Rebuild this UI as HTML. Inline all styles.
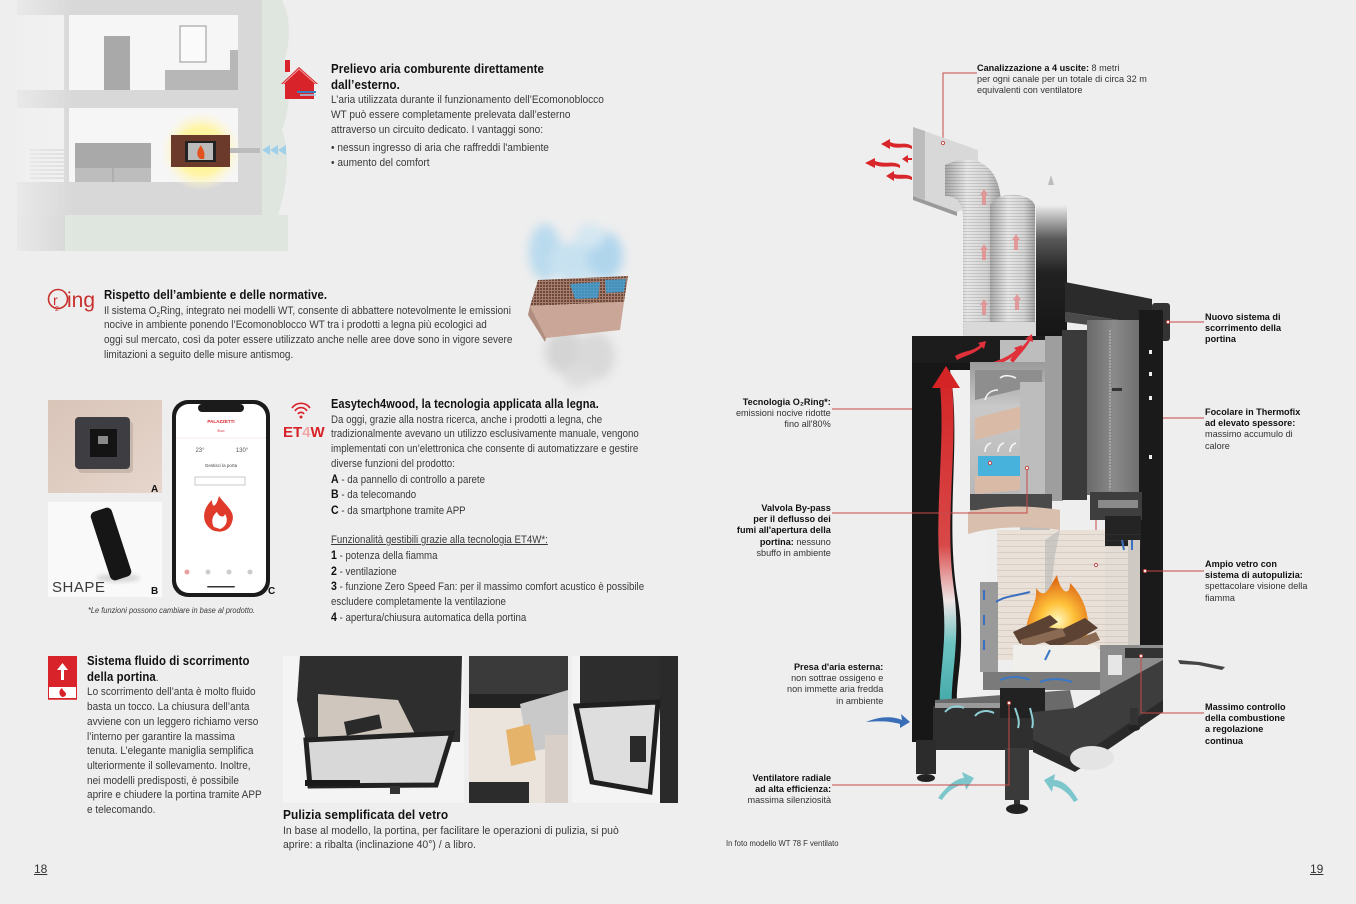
<!DOCTYPE html>
<html><head><meta charset="utf-8">
<style>
html,body{margin:0;padding:0}
body{width:1356px;height:904px;background:#eeeeee;position:relative;overflow:hidden;font-family:"Liberation Sans",Arial,sans-serif}
svg{position:absolute;left:0;top:0}
.b{position:absolute;font-size:11px;line-height:14.7px;color:#3a3a3a;transform:scaleX(.9);transform-origin:0 0;white-space:nowrap}
.b b{font-weight:bold;color:#111;font-size:12.5px;letter-spacing:0.1px}
.k{font-weight:bold;color:#111;font-size:12px}
.l{position:absolute;font-size:9.5px;line-height:11.2px;color:#333;transform:scaleX(.96);transform-origin:0 0;white-space:nowrap}
.l b{color:#111}
.r{transform-origin:100% 0;text-align:right}
.pg{position:absolute;font-size:12px;color:#333;text-decoration:underline}
</style></head><body>
<svg width="1356" height="904" viewBox="0 0 1356 904">
<defs>
<radialGradient id="glow" cx="0.5" cy="0.5" r="0.5"><stop offset="0" stop-color="#fff27a"/><stop offset="0.6" stop-color="#fff4a8"/><stop offset="1" stop-color="#fff9dc" stop-opacity="0"/></radialGradient>
<linearGradient id="fade" x1="0" x2="1"><stop offset="0" stop-color="#eeeeee"/><stop offset="1" stop-color="#eeeeee" stop-opacity="0"/></linearGradient>
<linearGradient id="duct" x1="0" x2="1"><stop offset="0" stop-color="#a8a8a8"/><stop offset="0.4" stop-color="#e6e6e6"/><stop offset="0.75" stop-color="#d4d4d4"/><stop offset="1" stop-color="#a0a0a0"/></linearGradient>
<pattern id="rib" width="6" height="3" patternUnits="userSpaceOnUse"><rect width="6" height="1" fill="rgba(0,0,0,0.12)"/></pattern>
<pattern id="grid" width="3" height="3" patternUnits="userSpaceOnUse"><rect width="3" height="3" fill="#a87c6a"/><rect width="2" height="2" fill="#6b4a3d"/></pattern>
<pattern id="lines" width="8" height="6" patternUnits="userSpaceOnUse"><rect width="8" height="1" fill="rgba(120,100,90,0.15)"/></pattern>
<linearGradient id="chim" x1="0" y1="0" x2="0" y2="1"><stop offset="0" stop-color="#eeeeee"/><stop offset="0.25" stop-color="#5a5a5a"/><stop offset="0.5" stop-color="#222"/><stop offset="1" stop-color="#151515"/></linearGradient>
<linearGradient id="arr" gradientUnits="userSpaceOnUse" x1="0" y1="370" x2="0" y2="720"><stop offset="0" stop-color="#d42426"/><stop offset="0.5" stop-color="#d84848"/><stop offset="0.66" stop-color="#efe6e6"/><stop offset="0.78" stop-color="#6cc4c2"/><stop offset="1" stop-color="#3aa3a3"/></linearGradient>
<linearGradient id="door" x1="0" x2="1"><stop offset="0" stop-color="#6a6a6a"/><stop offset="0.5" stop-color="#8a8a8a"/><stop offset="1" stop-color="#6e6e6e"/></linearGradient>
<linearGradient id="cham" x1="0" y1="0" x2="0" y2="1"><stop offset="0" stop-color="#9a9a9a"/><stop offset="0.3" stop-color="#c9c9c9"/><stop offset="1" stop-color="#b4b4b4"/></linearGradient>
<radialGradient id="fl" cx="0.5" cy="0.7" r="0.6"><stop offset="0" stop-color="#fff8c0"/><stop offset="0.45" stop-color="#ffc23a"/><stop offset="1" stop-color="#e0701a"/></radialGradient>
<linearGradient id="pinkA" x1="0" y1="0" x2="1" y2="1"><stop offset="0" stop-color="#d9c4b8"/><stop offset="1" stop-color="#e6d6cc"/></linearGradient>
<filter id="bl" x="-40%" y="-40%" width="180%" height="180%"><feGaussianBlur stdDeviation="5"/></filter>
<filter id="bl2" x="-30%" y="-30%" width="160%" height="160%"><feGaussianBlur stdDeviation="2"/></filter>
</defs>

<!-- ===== House illustration ===== -->
<path d="M255 0 L282 0 C292 20 290 45 284 60 C292 80 290 110 282 130 C290 150 288 185 278 215 L255 215 Z" fill="#dfe6e0"/>
<rect x="17" y="0" width="245" height="215" fill="#d8d8d8"/>
<rect x="69" y="15" width="169" height="75" fill="#f6f6f6"/>
<rect x="17" y="15" width="47" height="75" fill="#f2f2f2"/>
<rect x="69" y="108" width="169" height="74" fill="#f6f6f6"/>
<rect x="17" y="108" width="47" height="74" fill="#f2f2f2"/>
<rect x="104" y="36" width="26" height="54" fill="#a9a9a9"/>
<rect x="180" y="26" width="26" height="36" fill="#fafafa" stroke="#b5b5b5" stroke-width="1.5"/>
<rect x="165" y="70" width="73" height="20" fill="#b7b7b7"/>
<rect x="230" y="50" width="8" height="40" fill="#b7b7b7"/>
<g stroke="#c9c9c9" stroke-width="1"><line x1="30" y1="150" x2="64" y2="150"/><line x1="30" y1="154" x2="64" y2="154"/><line x1="30" y1="158" x2="64" y2="158"/><line x1="30" y1="162" x2="64" y2="162"/><line x1="30" y1="166" x2="64" y2="166"/><line x1="30" y1="170" x2="64" y2="170"/><line x1="30" y1="174" x2="64" y2="174"/><line x1="30" y1="178" x2="64" y2="178"/></g>
<rect x="75" y="143" width="76" height="27" fill="#a9a9a9"/>
<rect x="75" y="168" width="76" height="14" fill="#bdbdbd"/>
<line x1="113" y1="168" x2="113" y2="182" stroke="#a0a0a0"/>
<circle cx="201" cy="151" r="40" fill="url(#glow)"/>
<rect x="171" y="135" width="59" height="32" fill="#6b3a2b"/>
<rect x="185" y="141" width="31" height="21" fill="#222"/>
<rect x="188" y="143" width="25" height="17" fill="#bbb"/>
<path d="M200 159 C195 154 198 149 201 145 C202 149 206 151 204 159 Z" fill="#e2521e"/>
<rect x="230" y="148" width="30" height="5" fill="#bcbcbc"/>
<g fill="#9fcfe9"><path d="M262 150 L270 145 L270 155 Z"/><path d="M270 150 L278 145 L278 155 Z"/><path d="M278 150 L286 145 L286 155 Z"/></g>
<rect x="65" y="215" width="223" height="36" fill="#dfe6df"/>
<rect x="17" y="215" width="48" height="36" fill="#d6d6d6"/>
<rect x="0" y="0" width="75" height="260" fill="url(#fade)"/>

<!-- red house icon -->
<rect x="285" y="60" width="5" height="12" fill="#d8232a"/>
<path d="M281 84 L299 67 L318 84 L314 84 L314 99 L285 99 L285 84 Z" fill="#d8232a"/>
<path d="M283 84 L299 69 L316 84" fill="none" stroke="#f2a0a0" stroke-width="1"/>
<line x1="297" y1="92" x2="316" y2="92" stroke="#3a7fc0" stroke-width="2"/>
<line x1="300" y1="95" x2="316" y2="95" stroke="#9fd0ec" stroke-width="1.5"/>

<!-- O2ring logo -->
<circle cx="58" cy="299" r="9.5" fill="none" stroke="#c9302c" stroke-width="1.6"/>
<text x="53" y="305" font-family="Liberation Sans, sans-serif" font-size="14" fill="#c9302c">r</text>
<text x="55" y="311" font-family="Liberation Sans, sans-serif" font-size="7" fill="#c9302c">2</text>
<text x="67" y="307" font-family="Liberation Sans, sans-serif" font-size="21" fill="#c9302c">ing</text>

<!-- smoke + brick -->
<g filter="url(#bl)" opacity="0.55">
<ellipse cx="545" cy="252" rx="16" ry="28" fill="#8fcbee"/>
<ellipse cx="575" cy="262" rx="26" ry="20" fill="#a8d8f2"/>
<ellipse cx="605" cy="256" rx="18" ry="24" fill="#7fc3ec"/>
<ellipse cx="590" cy="236" rx="14" ry="12" fill="#bfe2f5"/>
</g>
<g filter="url(#bl)" opacity="0.45">
<ellipse cx="565" cy="352" rx="20" ry="22" fill="#b5b5b5"/>
<ellipse cx="595" cy="356" rx="20" ry="24" fill="#c0c0c0"/>
<ellipse cx="578" cy="376" rx="14" ry="12" fill="#c8c8c8"/>
</g>
<polygon points="538,280 628,276 624,302 530,306" fill="url(#grid)"/>
<polygon points="570,284 600,282 598,298 575,299" fill="#3aa0d8" opacity="0.8"/>
<polygon points="605,280 626,279 624,292 606,293" fill="#3aa0d8" opacity="0.8"/>
<polygon points="530,306 624,302 620,330 546,338" fill="#c9a697"/>
<polygon points="530,306 546,338 545,342 528,315" fill="#b08d7e"/>

<!-- Photo A -->
<rect x="48" y="400" width="114" height="93" fill="url(#pinkA)"/>
<rect x="78" y="421" width="55" height="52" rx="4" fill="#b7a69c" opacity="0.6"/>
<rect x="75" y="417" width="55" height="52" rx="4" fill="#3e3e42"/>
<rect x="90" y="429" width="27" height="28" fill="#141414"/>
<rect x="98" y="436" width="10" height="8" fill="#8a8a8a"/>
<text x="151" y="492" font-family="Liberation Sans, sans-serif" font-size="10" font-weight="bold" fill="#111">A</text>
<!-- Photo B -->
<rect x="48" y="502" width="114" height="95" fill="#f9f9f9"/>
<ellipse cx="118" cy="578" rx="22" ry="4" fill="#d5d5d5" filter="url(#bl2)"/>
<rect x="100" y="508" width="22" height="72" rx="5" fill="#161616" transform="rotate(-18 111 544)"/>
<text x="52" y="592" font-family="Liberation Sans, sans-serif" font-size="15" fill="#3a3a3a" letter-spacing="0.5">SHAPE</text>
<text x="151" y="594" font-family="Liberation Sans, sans-serif" font-size="10" font-weight="bold" fill="#111">B</text>
<!-- Phone C -->
<rect x="172" y="400" width="98" height="197" rx="16" fill="#1b1b1b"/>
<rect x="176" y="404" width="90" height="189" rx="13" fill="#ffffff"/>
<rect x="198" y="404" width="46" height="8" rx="4" fill="#1b1b1b"/>
<text x="221" y="423" text-anchor="middle" font-family="Liberation Sans, sans-serif" font-size="4.5" font-weight="bold" fill="#d8232a">PALAZZETTI</text>
<text x="221" y="432" text-anchor="middle" font-family="Liberation Sans, sans-serif" font-size="4" fill="#d8232a">Eco</text>
<line x1="176" y1="438" x2="266" y2="438" stroke="#f0d6d6" stroke-width="0.6"/>
<text x="200" y="452" text-anchor="middle" font-family="Liberation Sans, sans-serif" font-size="6" fill="#555">23°</text>
<text x="242" y="452" text-anchor="middle" font-family="Liberation Sans, sans-serif" font-size="6" fill="#555">130°</text>
<text x="221" y="467" text-anchor="middle" font-family="Liberation Sans, sans-serif" font-size="4.5" fill="#444">Gestisci la porta</text>
<rect x="195" y="477" width="50" height="8" fill="none" stroke="#bbb" stroke-width="0.8"/>
<path d="M212 530 C200 522 203 508 212 500 C212 508 216 508 219 496 C226 506 236 512 232 522 C230 530 222 534 212 530 Z" fill="#e03a2a"/>
<path d="M214 527 C210 520 214 514 217 512 C219 517 224 518 225 514 C229 520 226 527 220 529 Z" fill="#ffffff"/>
<g fill="#ccc"><circle cx="208" cy="572" r="2.5"/><circle cx="229" cy="572" r="2.5"/><circle cx="250" cy="572" r="2.5"/></g>
<circle cx="187" cy="572" r="2.5" fill="#e8a0a0"/>
<rect x="207" y="586" width="28" height="1.5" rx="1" fill="#333"/>
<text x="268" y="594" font-family="Liberation Sans, sans-serif" font-size="10" font-weight="bold" fill="#111">C</text>

<!-- ET4W logo -->
<g fill="none" stroke="#d8232a" stroke-width="1.6">
<path d="M292 408 A11 11 0 0 1 310 408"/><path d="M295 411 A7 7 0 0 1 307 411"/><path d="M298 414 A3.5 3.5 0 0 1 304 414"/>
</g>
<circle cx="301" cy="417" r="1.5" fill="#d8232a"/>
<text x="283" y="437" font-family="Liberation Sans, sans-serif" font-size="15" font-weight="bold" fill="#d8232a">ET<tspan fill="#f0a8a8">4</tspan>W</text>

<!-- Sistema icon -->
<rect x="48" y="656" width="29" height="30" fill="#d8232a"/>
<path d="M62.5 663 L57 670 L61 670 L61 680 L64 680 L64 670 L68 670 Z" fill="#fff"/>
<rect x="48.5" y="686.5" width="28" height="12" fill="#fff" stroke="#d8232a"/>
<path d="M62 697 C58 694 59 690 62 688 C63 691 66 692 66 694 C66 696 64 697 62 697 Z" fill="#d8232a"/>
<line x1="48" y1="699" x2="77" y2="699" stroke="#d8232a" stroke-width="1.5"/>

<!-- Bottom photos -->
<rect x="283" y="656" width="181" height="147" fill="#f4f4f4"/>
<polygon points="300,656 462,656 460,742 306,742 297,700" fill="#2e2e2e"/>
<polygon points="318,694 398,700 418,740 318,740" fill="#cfc6bd"/>
<rect x="345" y="718" width="36" height="14" fill="#2a2a2a" transform="rotate(-12 363 725)"/>
<polygon points="306,740 452,733 436,785 310,786" fill="#d8d8d8" stroke="#222" stroke-width="5"/>
<rect x="305" y="780" width="55" height="6" fill="#1a1a1a"/>
<rect x="390" y="786" width="10" height="8" fill="#333"/>
<rect x="469" y="656" width="99" height="147" fill="#ebe4dc"/>
<rect x="469" y="656" width="99" height="42" fill="#3a3a3a"/>
<rect x="469" y="694" width="99" height="14" fill="#222"/>
<polygon points="520,704 568,690 568,745 528,752" fill="#c9c9c9"/>
<polygon points="506,730 530,724 536,760 511,766" fill="#e6b36a"/>
<rect x="469" y="782" width="60" height="21" fill="#2c2c2c"/>
<rect x="545" y="735" width="23" height="68" fill="#d8d0c8"/>
<rect x="572" y="656" width="106" height="147" fill="#f4f4f4"/>
<rect x="580" y="656" width="82" height="50" fill="#2d2d2d"/>
<rect x="660" y="656" width="18" height="147" fill="#2a2a2a"/>
<polygon points="576,706 658,702 650,792 592,782" fill="#dedede" stroke="#1f1f1f" stroke-width="5"/>
<rect x="630" y="736" width="16" height="26" fill="#2a2a2a"/>

<!-- ===== Stove (right page) ===== -->
<g stroke="#c44a48" stroke-width="1" fill="none">
<polyline points="977,73 943,73 943,143"/>
<polyline points="1204,322 1168,322"/>
<polyline points="832,409 990,409 990,463"/>
<polyline points="1204,418 1096,418 1096,565"/>
</g>
<g fill="#d8262b">
<path d="M912 146 C905 141 898 146 890 142 L890 139 L881 144 L890 149 L890 146 C898 150 905 145 912 149 Z"/>
<path d="M900 165 C893 160 886 165 875 161 L875 158 L865 163 L875 168 L875 165 C886 169 893 164 900 168 Z"/>
<path d="M912 177 C906 173 900 176 894 174 L894 171 L886 176 L894 181 L894 178 C900 180 906 177 912 180 Z"/>
<path d="M912 158 L908 158 L908 155 L902 159 L908 163 L908 160 L912 160 Z"/>
</g>
<polygon points="913,127 978,150 978,203 957,212 913,196" fill="#d8d8d8"/>
<polygon points="913,127 925,131 925,200 913,196" fill="#bcbcbc"/>
<polygon points="913,196 957,212 957,216 913,200" fill="#9a9a9a"/>
<circle cx="943" cy="143" r="1.6" fill="#fff" stroke="#c44a48"/>
<path d="M945 165 C978 150 1001 168 1001 205 L1001 336 L963 336 L963 218 C963 202 956 196 945 196 Z" fill="url(#duct)"/>
<path d="M945 165 C978 150 1001 168 1001 205 L1001 336 L963 336 L963 218 C963 202 956 196 945 196 Z" fill="url(#rib)"/>
<path d="M990 206 C994 191 1031 191 1035 206 L1035 336 L990 336 Z" fill="url(#duct)"/>
<path d="M990 206 C994 191 1031 191 1035 206 L1035 336 L990 336 Z" fill="url(#rib)"/>
<g fill="#e58a8a" opacity="0.8">
<path d="M980 195 l4 -6 l4 6 l-2 0 l0 10 l-4 0 l0 -10 Z"/>
<path d="M980 250 l4 -6 l4 6 l-2 0 l0 10 l-4 0 l0 -10 Z"/>
<path d="M1012 240 l4 -6 l4 6 l-2 0 l0 10 l-4 0 l0 -10 Z"/>
<path d="M980 305 l4 -6 l4 6 l-2 0 l0 10 l-4 0 l0 -10 Z"/>
<path d="M1013 300 l4 -6 l4 6 l-2 0 l0 10 l-4 0 l0 -10 Z"/>
</g>
<rect x="964" y="322" width="72" height="18" fill="#d9d9d9"/>
<rect x="1036" y="205" width="31" height="135" fill="url(#chim)"/>
<path d="M1048 185 l3 -10 l3 10 Z" fill="#bbb"/>
<polygon points="1065,282 1152,299 1152,325 1065,312" fill="#2b2b2b"/>
<polygon points="1065,312 1152,325 1152,333 1065,322" fill="#4a4a4a"/>
<rect x="1152" y="303" width="18" height="38" rx="3" fill="#333"/>
<circle cx="1168" cy="322" r="1.6" fill="#fff" stroke="#c44a48"/>
<rect x="912" y="336" width="74" height="406" fill="#171717"/>
<rect x="912" y="336" width="150" height="27" fill="#1c1c1c"/>
<rect x="1000" y="340" width="60" height="22" fill="#bdbdbd"/>
<g fill="#e0303a"><path d="M955 356 C965 350 972 352 980 345 L978 343 L986 341 L984 349 L982 347 C974 354 967 355 957 360 Z"/><path d="M985 366 C995 360 1005 360 1016 350 L1014 348 L1022 345 L1021 353 L1019 351 C1008 362 998 364 988 370 Z"/><path d="M1010 360 C1015 352 1022 348 1028 340 L1025 339 L1032 334 L1033 342 L1030 341 C1025 350 1018 356 1013 363 Z"/></g>
<path d="M950 370 C962 440 944 520 958 600 C968 660 950 690 960 718 L988 718 L988 370 Z" fill="#f0f0f0"/>
<path d="M946 385 C952 450 938 520 948 590 C956 650 940 690 948 718" fill="none" stroke="url(#arr)" stroke-width="12"/>
<polygon points="932,388 946,366 960,388" fill="#d42426"/>
<rect x="970" y="362" width="75" height="150" fill="url(#cham)"/>
<polygon points="975,370 1042,370 1042,384 975,400" fill="#8e8e8e"/>
<polygon points="975,418 1022,406 1022,428 975,440" fill="#d9baa7"/>
<polygon points="975,476 1022,472 1022,490 975,494" fill="#d9baa7"/>
<rect x="978" y="456" width="42" height="20" fill="#47b2dc"/>
<g fill="none" stroke="#f4f4f4" stroke-width="1.6">
<path d="M985 452 C985 446 988 444 991 443"/><path d="M998 452 C998 446 1001 444 1004 443"/><path d="M1010 452 C1010 446 1013 444 1016 443"/>
<path d="M985 400 C987 392 993 390 998 390"/><path d="M1000 378 C1005 374 1012 376 1016 378"/>
</g>
<polygon points="1020,382 1050,382 1050,530 1060,545 1045,552 1020,530" fill="#bdbdbd"/>
<rect x="1045" y="336" width="18" height="165" fill="#9e9e9e"/>
<rect x="1062" y="330" width="25" height="170" fill="#3a3a3a"/>
<rect x="1087" y="320" width="54" height="175" fill="url(#door)"/>
<line x1="1110" y1="330" x2="1110" y2="490" stroke="#c4c4c4" stroke-width="1" stroke-dasharray="2 1"/>
<rect x="1112" y="388" width="10" height="3" fill="#333"/>
<rect x="1139" y="310" width="24" height="392" fill="#1a1a1a"/>
<g fill="#eee"><rect x="1149" y="350" width="3" height="4"/><rect x="1149" y="372" width="3" height="4"/><rect x="1149" y="396" width="3" height="4"/><rect x="1149" y="455" width="3" height="4"/></g>
<rect x="970" y="494" width="82" height="16" fill="#4a4a4a"/>
<path d="M968 512 C995 505 1030 505 1060 510 L1060 530 C1030 526 995 526 968 534 Z" fill="#d8bfae"/>
<rect x="1090" y="492" width="52" height="28" fill="#3e3e3e"/>
<rect x="1098" y="500" width="40" height="8" fill="#8a8a8a"/>
<rect x="1105" y="516" width="36" height="30" fill="#242424"/>
<rect x="997" y="530" width="108" height="130" fill="#e9e1d8"/>
<rect x="1105" y="546" width="35" height="114" fill="#e4ddd6"/>
<rect x="997" y="530" width="143" height="130" fill="url(#lines)"/>
<rect x="1128" y="540" width="12" height="115" fill="#cfc9c4"/>
<polygon points="1045,540 1060,530 1055,555 1050,600 1045,600" fill="#b7b7b7" opacity="0.6"/>
<rect x="980" y="582" width="18" height="90" fill="#9a9a9a"/>
<g stroke="#3a6fc0" stroke-width="2" fill="none"><path d="M984 590 l0 10"/><path d="M984 615 l0 10"/><path d="M984 640 l0 10"/><path d="M996 602 C1005 596 1015 596 1030 592"/><path d="M1122 540 l2 10"/><path d="M1132 540 l0 10"/></g>
<path d="M1028 640 C1022 615 1038 608 1036 588 C1046 602 1050 585 1057 575 C1060 592 1070 598 1070 583 C1085 598 1092 620 1086 640 Z" fill="url(#fl)"/>
<g fill="#5c4232"><polygon points="1013,632 1050,615 1058,622 1020,644"/><polygon points="1040,640 1085,618 1098,628 1060,650"/><polygon points="1030,625 1070,630 1072,642 1030,640"/></g>
<g fill="#8a6a52"><polygon points="1020,640 1062,628 1066,636 1024,648"/><polygon points="1062,645 1096,632 1100,640 1066,653"/></g>
<polygon points="1013,645 1095,645 1105,655 1105,676 1013,672" fill="#f1efeb"/>
<rect x="983" y="672" width="122" height="18" fill="#7a7a7a"/>
<g stroke="#3a78c8" stroke-width="2" fill="none"><path d="M1000 680 C1010 676 1020 676 1030 680"/><path d="M1040 682 C1050 678 1060 678 1072 682"/><path d="M1045 660 l5 -10"/></g>
<rect x="1100" y="645" width="63" height="60" fill="#8c8c8c"/>
<rect x="1108" y="655" width="14" height="20" fill="#e6e6e6"/>
<rect x="1125" y="648" width="38" height="10" fill="#333"/>
<polygon points="935,700 1070,690 1075,712 935,712" fill="#6a6a6a"/>
<rect x="933" y="706" width="100" height="44" fill="#2f2f2f"/>
<rect x="935" y="703" width="98" height="5" fill="#9a9a9a"/>
<rect x="1000" y="688" width="45" height="30" fill="#222"/>
<polygon points="1033,712 1075,708 1163,660 1163,705 1075,765 1033,748" fill="#3d3d3d"/>
<polygon points="1033,740 1075,760 1163,700 1163,712 1075,772 1033,752" fill="#2a2a2a"/>
<ellipse cx="1092" cy="758" rx="22" ry="12" fill="#e4e4e4"/>
<g stroke="#8fd0d6" stroke-width="2" fill="none"><path d="M945 712 C950 706 958 705 964 708"/><path d="M975 716 C980 710 988 710 994 713"/><path d="M1015 708 C1018 716 1020 722 1018 728"/><path d="M1030 708 C1032 716 1034 722 1032 728"/></g>
<rect x="916" y="740" width="20" height="34" fill="#2c2c2c"/>
<ellipse cx="926" cy="778" rx="9" ry="4" fill="#222"/>
<rect x="1005" y="748" width="24" height="52" fill="#3a3a3a"/>
<rect x="1014" y="800" width="6" height="6" fill="#333"/>
<ellipse cx="1017" cy="809" rx="11" ry="5" fill="#222"/>
<rect x="1130" y="708" width="8" height="18" fill="#333"/>
<ellipse cx="1134" cy="728" rx="6" ry="3" fill="#222"/>
<path d="M1178 660 L1200 662 L1225 667 L1222 670 L1198 665 L1180 664 Z" fill="#444"/>
<path d="M866 722 C880 716 893 716 902 720 L901 714 L910 722 L900 728 L900 724 C890 721 880 721 866 722 Z" fill="#3a6fb8"/>
<path d="M938 798 C948 784 958 778 964 778 L962 772 L974 778 L966 790 L965 784 C958 785 948 790 942 800 Z" fill="#7cc6cc"/>
<path d="M1078 800 C1070 786 1062 780 1054 780 L1055 774 L1044 780 L1052 792 L1053 786 C1060 787 1068 792 1074 802 Z" fill="#7cc6cc"/>
<g stroke="#c44a48" stroke-width="1" fill="none">
<polyline points="832,513 1027,513 1027,468"/>
<polyline points="1204,571 1145,571"/>
<polyline points="1204,713 1141,713 1141,656"/>
<polyline points="832,785 1009,785 1009,703"/>
</g>
<g fill="#fff" stroke="#c44a48" stroke-width="1">
<circle cx="990" cy="463" r="1.6"/><circle cx="1096" cy="565" r="1.6"/><circle cx="1027" cy="468" r="1.6"/><circle cx="1145" cy="571" r="1.6"/><circle cx="1141" cy="656" r="1.6"/><circle cx="1009" cy="703" r="1.6"/>
</g>
</svg>

<!-- ===== Left page text ===== -->
<div class="b" style="left:331px;top:62px;transform:scaleX(.92)"><b>Prelievo aria comburente direttamente</b><br><b>dall’esterno.</b><br>L’aria utilizzata durante il funzionamento dell’Ecomonoblocco<br>WT può essere completamente prelevata dall’esterno<br>attraverso un circuito dedicato. I vantaggi sono:</div>
<div class="b" style="left:331px;top:141px;line-height:14.5px;transform:scaleX(.92)">• nessun ingresso di aria che raffreddi l'ambiente<br>• aumento del comfort</div>

<div class="b" style="left:104px;top:288px;transform:scaleX(.905)"><b>Rispetto dell’ambiente e delle normative.</b><br>Il sistema O<sub style="font-size:7px;line-height:0">2</sub>Ring, integrato nei modelli WT, consente di abbattere notevolmente le emissioni<br>nocive in ambiente ponendo l’Ecomonoblocco WT tra i prodotti a legna più ecologici ad<br>oggi sul mercato, così da poter essere utilizzato anche nelle aree dove sono in vigore severe<br>limitazioni a seguito delle misure antismog.</div>

<div class="b" style="left:331px;top:397px;transform:scaleX(.88)"><b>Easytech4wood, la tecnologia applicata alla legna.</b><br>Da oggi, grazie alla nostra ricerca, anche i prodotti a legna, che<br>tradizionalmente avevano un utilizzo esclusivamente manuale, vengono<br>implementati con un’elettronica che consente di automatizzare e gestire<br>diverse funzioni del prodotto:<br><span class="k">A</span> - da pannello di controllo a parete<br><span class="k">B</span> - da telecomando<br><span class="k">C</span> - da smartphone tramite APP<br>&nbsp;<br><u>Funzionalità gestibili grazie alla tecnologia ET4W*:</u><br><span class="k">1</span> - potenza della fiamma<br><span class="k">2</span> - ventilazione<br><span class="k">3</span> - funzione Zero Speed Fan: per il massimo comfort acustico è possibile<br>escludere completamente la ventilazione<br><span class="k">4</span> - apertura/chiusura automatica della portina</div>

<div class="b" style="left:88px;top:606px;font-size:8px;line-height:10px;font-style:italic;transform:scaleX(.93)">*Le funzioni possono cambiare in base al prodotto.</div>

<div class="b" style="left:87px;top:654px;transform:scaleX(.91)"><b>Sistema fluido di scorrimento</b><br><b>della portina</b>.<br>Lo scorrimento dell’anta è molto fluido<br>basta un tocco. La chiusura dell’anta<br>avviene con un leggero richiamo verso<br>l’interno per garantire la massima<br>tenuta. L’elegante maniglia semplifica<br>ulteriormente il sollevamento. Inoltre,<br>nei modelli predisposti, è possibile<br>aprire e chiudere la portina tramite APP<br>e telecomando.</div>

<div class="b" style="left:283px;top:808px;transform:scaleX(.95)"><b>Pulizia semplificata del vetro</b><br>In base al modello, la portina, per facilitare le operazioni di pulizia, si può<br>aprire: a ribalta (inclinazione 40°) / a libro.</div>

<div class="pg" style="left:34px;top:862px">18</div>
<div class="pg" style="left:1310px;top:862px">19</div>

<!-- ===== Right page labels ===== -->
<div class="l" style="left:977px;top:63px"><b>Canalizzazione a 4 uscite:</b> 8 metri<br>per ogni canale per un totale di circa 32 m<br>equivalenti con ventilatore</div>
<div class="l" style="left:1205px;top:312px"><b>Nuovo sistema di<br>scorrimento della<br>portina</b></div>
<div class="l r" style="right:525px;top:397px"><b>Tecnologia O₂Ring*:</b><br>emissioni nocive ridotte<br>fino all'80%</div>
<div class="l" style="left:1205px;top:407px"><b>Focolare in Thermofix<br>ad elevato spessore:</b><br>massimo accumulo di<br>calore</div>
<div class="l r" style="right:525px;top:503px"><b>Valvola By-pass<br>per il deflusso dei<br>fumi all'apertura della<br>portina:</b> nessuno<br>sbuffo in ambiente</div>
<div class="l" style="left:1205px;top:559px"><b>Ampio vetro con<br>sistema di autopulizia:</b><br>spettacolare visione della<br>fiamma</div>
<div class="l r" style="right:473px;top:662px"><b>Presa d'aria esterna:</b><br>non sottrae ossigeno e<br>non immette aria fredda<br>in ambiente</div>
<div class="l" style="left:1205px;top:702px"><b>Massimo controllo<br>della combustione<br>a regolazione<br>continua</b></div>
<div class="l r" style="right:525px;top:773px"><b>Ventilatore radiale<br>ad alta efficienza:</b><br>massima silenziosità</div>
<div class="l" style="left:726px;top:839px;font-size:8px;line-height:10px">In foto modello WT 78 F ventilato</div>
</body></html>
